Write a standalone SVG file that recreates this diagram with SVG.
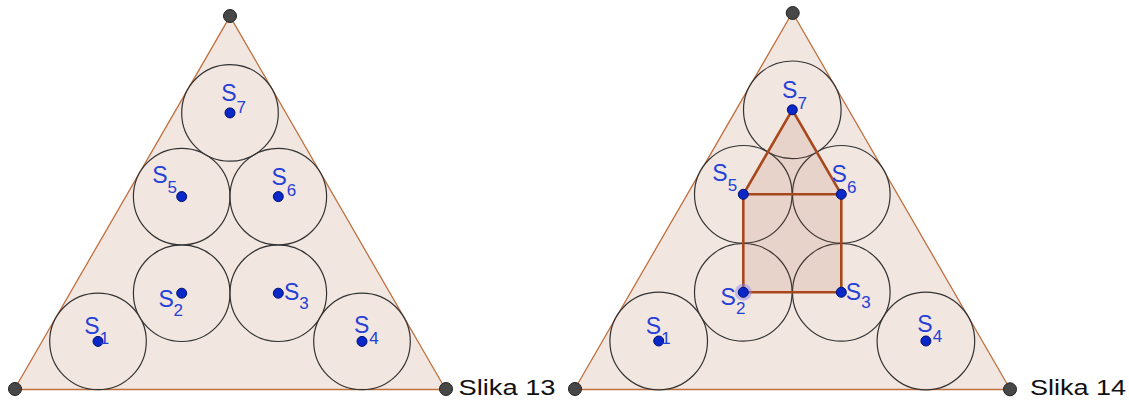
<svg xmlns="http://www.w3.org/2000/svg" width="1129" height="405" viewBox="0 0 1129 405">
<style>
.bg{fill:#ffffff}
.tri{fill:#f2e6e0;stroke:#c0703f;stroke-width:1.3}
.c{fill:#f2e6e0;fill-opacity:0.6;stroke:#333;stroke-width:1.2}
.v{fill:#474747;stroke:#222;stroke-width:1}
.p{fill:#0a28c8;stroke:#001070;stroke-width:1}
.lab{font-family:"Liberation Sans",Arial,sans-serif;font-size:23px;fill:#2540d6}
.sub{font-family:"Liberation Sans",Arial,sans-serif;font-size:17px;fill:#2540d6}
.cap{font-family:"Liberation Sans",Arial,sans-serif;font-size:22px;fill:#111}
.house{fill:#a0522d;fill-opacity:0.13;stroke:#a8471c;stroke-width:2.6;stroke-linejoin:round}
.hl{stroke:#a8471c;stroke-width:2.6}
</style>
<rect class="bg" width="1129" height="405"/>

<!-- Figure 13 -->
<g id="fig13">
  <polygon id="tri13" class="tri" points="14.3,389.5 230,16.3 445.7,389.5"/>
  <g id="circles13">
    <circle class="c" cx="98" cy="341.4" r="48.3"/>
    <circle class="c" cx="181.7" cy="293.2" r="48.3"/>
    <circle class="c" cx="278.3" cy="293.2" r="48.3"/>
    <circle class="c" cx="362" cy="341.4" r="48.3"/>
    <circle class="c" cx="181.7" cy="196.6" r="48.3"/>
    <circle class="c" cx="278.3" cy="196.6" r="48.3"/>
    <circle class="c" cx="230" cy="112.9" r="48.3"/>
  </g>
  <g id="verts13">
    <circle class="v" cx="230" cy="16" r="6.5"/>
    <circle class="v" cx="15" cy="389" r="6.5"/>
    <circle class="v" cx="446" cy="389" r="6.5"/>
  </g>
  <g id="S1_13"><circle class="p" cx="98" cy="341.4" r="5"/><text class="lab" x="84.3" y="334">S</text><text class="sub" x="99.8" y="344">1</text></g>
  <g id="S2_13"><circle class="p" cx="181.7" cy="293.2" r="5"/><text class="lab" x="158.5" y="306.5">S</text><text class="sub" x="173.5" y="316">2</text></g>
  <g id="S3_13"><circle class="p" cx="278.3" cy="293.2" r="5"/><text class="lab" x="284" y="300">S</text><text class="sub" x="299.3" y="308.5">3</text></g>
  <g id="S4_13"><circle class="p" cx="362" cy="341.4" r="5"/><text class="lab" x="354" y="333">S</text><text class="sub" x="369.3" y="343.5">4</text></g>
  <g id="S5_13"><circle class="p" cx="181.7" cy="196.6" r="5"/><text class="lab" x="152.3" y="183.3">S</text><text class="sub" x="167.6" y="193.3">5</text></g>
  <g id="S6_13"><circle class="p" cx="278.3" cy="196.6" r="5"/><text class="lab" x="271.5" y="185">S</text><text class="sub" x="286.8" y="196">6</text></g>
  <g id="S7_13"><circle class="p" cx="230" cy="112.9" r="5"/><text class="lab" x="221.2" y="100.7">S</text><text class="sub" x="236.6" y="113">7</text></g>
  <text id="cap13" class="cap" x="458.5" y="395" textLength="97" lengthAdjust="spacingAndGlyphs">Slika 13</text>
</g>

<!-- Figure 14 -->
<g id="fig14">
  <polygon id="tri14" class="tri" points="574.5,389.5 792.4,12.5 1010.3,389.5"/>
  <g id="circles14">
    <circle class="c" cx="658.7" cy="341" r="48.8"/>
    <circle class="c" cx="743.3" cy="292.3" r="48.8"/>
    <circle class="c" cx="841.3" cy="292.3" r="48.8"/>
    <circle class="c" cx="925.9" cy="341" r="48.8"/>
    <circle class="c" cx="743.3" cy="194.3" r="48.8"/>
    <circle class="c" cx="841.3" cy="194.3" r="48.8"/>
    <circle class="c" cx="792.3" cy="109.8" r="48.8"/>
  </g>
  <g id="house">
    <polygon class="house" points="743.3,292.3 841.3,292.3 841.3,194.3 792.3,109.8 743.3,194.3"/>
    <line class="hl" x1="743.3" y1="194.3" x2="841.3" y2="194.3"/>
  </g>
  <g id="verts14">
    <circle class="v" cx="792.7" cy="13" r="6.5"/>
    <circle class="v" cx="575" cy="389" r="6.5"/>
    <circle class="v" cx="1010" cy="389.3" r="6.5"/>
  </g>
  <g id="S1_14"><circle class="p" cx="658.7" cy="341" r="5"/><text class="lab" x="645.8" y="333.5">S</text><text class="sub" x="661.2" y="343.5">1</text></g>
  <g id="S2_14"><circle cx="743.3" cy="292.3" r="8.5" fill="#8a80f0" fill-opacity="0.45"/><circle class="p" cx="743.3" cy="292.3" r="5"/><text class="lab" x="720.5" y="305">S</text><text class="sub" x="736" y="314">2</text></g>
  <g id="S3_14"><circle class="p" cx="841.3" cy="292.3" r="5"/><text class="lab" x="845.7" y="300">S</text><text class="sub" x="861.2" y="308.3">3</text></g>
  <g id="S4_14"><circle class="p" cx="925.9" cy="341" r="5"/><text class="lab" x="917.3" y="332">S</text><text class="sub" x="932.7" y="342">4</text></g>
  <g id="S5_14"><circle class="p" cx="743.3" cy="194.3" r="5"/><text class="lab" x="712.3" y="180.7">S</text><text class="sub" x="727.7" y="190.7">5</text></g>
  <g id="S6_14"><circle class="p" cx="841.3" cy="194.3" r="5"/><text class="lab" x="831.5" y="181.7">S</text><text class="sub" x="846.9" y="193.3">6</text></g>
  <g id="S7_14"><circle class="p" cx="792.3" cy="109.8" r="5"/><text class="lab" x="782" y="98.3">S</text><text class="sub" x="797.4" y="109">7</text></g>
  <text id="cap14" class="cap" x="1030" y="395" textLength="96" lengthAdjust="spacingAndGlyphs">Slika 14</text>
</g>
</svg>
